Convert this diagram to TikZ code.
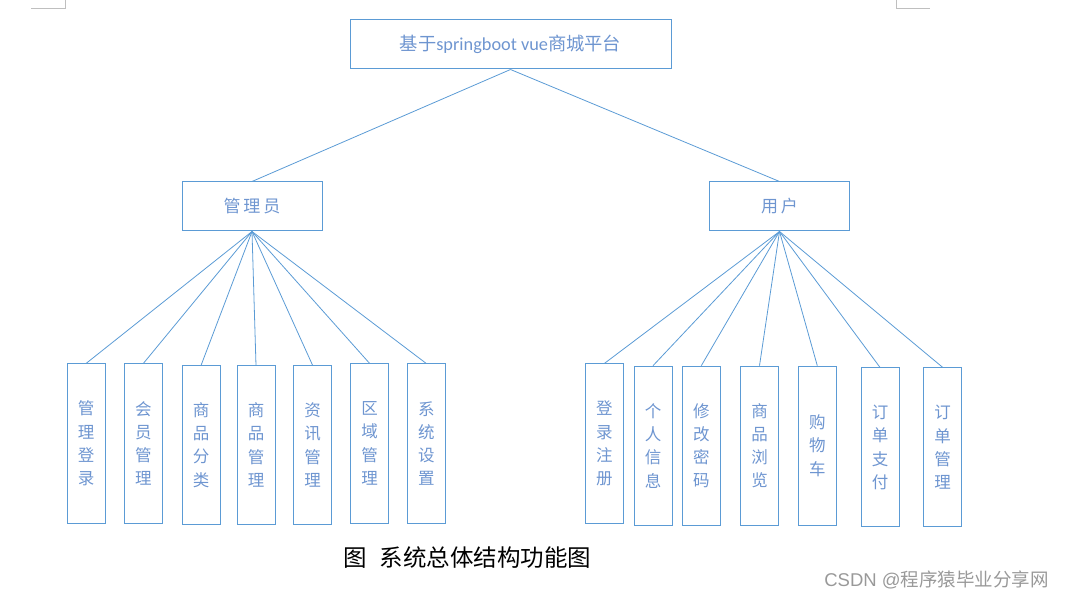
\documentclass[tikz,border=0pt]{standalone}
\usepackage{fontspec}
\newfontfamily\cjk{Noto Sans CJK SC}
\newfontfamily\carlito{Carlito}
\newfontfamily\lsans{Liberation Sans}
\definecolor{boxc}{HTML}{5B9BD5}
\definecolor{txtc}{HTML}{6E95D0}
\definecolor{markc}{HTML}{BFBFBF}
\definecolor{wmc}{HTML}{999999}
\begin{document}
\begin{tikzpicture}[x=1pt,y=-1pt,
  box/.style={draw=boxc, line width=1pt, text=txtc, inner sep=0pt, align=center},
  topbox/.style={box, minimum width=321pt, minimum height=49pt, font={\cjk\fontsize{18.3}{20}\selectfont}},
  midbox/.style={box, minimum width=140pt, minimum height=49pt, font={\cjk\fontsize{17}{20}\selectfont}},
  leaf/.style={box, minimum width=38pt, font={\cjk\fontsize{16.5}{23.3}\selectfont}},
  conn/.style={draw=boxc, line width=0.8pt},
  cornermark/.style={draw=markc, line width=0.8pt}]
\useasboundingbox (0,0) rectangle (1066,601);
% corner marks
\draw[cornermark] (31,8) -- (65,8) -- (65,0);
\draw[cornermark] (896,0) -- (896,8) -- (930,8);
% root
\node[topbox] (root) at (510.5,44.5) {基于{\carlito springboot vue}商城平台};
\node[midbox] (admin) at (252,206.5) {管\,理\,员};
\node[midbox] (user) at (779.5,206.5) {用\,户};
% admin leaves
\node[leaf, minimum height=159pt] (a1) at (86,443.5) {管\\理\\登\\录};
\node[leaf, minimum height=159pt] (a2) at (143.3,443.5) {会\\员\\管\\理};
\node[leaf, minimum height=158pt] (a3) at (201,445) {商\\品\\分\\类};
\node[leaf, minimum height=158pt] (a4) at (256,445) {商\\品\\管\\理};
\node[leaf, minimum height=158pt] (a5) at (312.7,445) {资\\讯\\管\\理};
\node[leaf, minimum height=159pt] (a6) at (369.7,443.5) {区\\域\\管\\理};
\node[leaf, minimum height=159pt] (a7) at (426.3,443.5) {系\\统\\设\\置};
% user leaves
\node[leaf, minimum height=159pt] (u1) at (604.3,443.5) {登\\录\\注\\册};
\node[leaf, minimum height=159pt] (u2) at (653,445.7) {个\\人\\信\\息};
\node[leaf, minimum height=159pt] (u3) at (701.3,445.7) {修\\改\\密\\码};
\node[leaf, minimum height=159pt] (u4) at (759.5,445.7) {商\\品\\浏\\览};
\node[leaf, minimum height=159pt] (u5) at (817.3,445.7) {购\\物\\车};
\node[leaf, minimum height=159pt] (u6) at (880,447.4) {订\\单\\支\\付};
\node[leaf, minimum height=159pt] (u7) at (942.7,447.4) {订\\单\\管\\理};
% connectors
\draw[conn] (root.south) -- (admin.north);
\draw[conn] (root.south) -- (user.north);
\foreach \n in {a1,a2,a3,a4,a5,a6,a7} \draw[conn] (admin.south) -- (\n.north);
\foreach \n in {u1,u2,u3,u4,u5,u6,u7} \draw[conn] (user.south) -- (\n.north);
% caption
\node[font={\cjk\fontsize{23.5}{26}\selectfont}, text=black, inner sep=0pt] (cap) at (467.5,558) {图\hspace{0.55em}系统总体结构功能图};
% watermark
\node[font={\fontsize{18.5}{20}\selectfont}, text=wmc, inner sep=0pt] (wm) at (936.5,580) {{\lsans CSDN @}{\cjk 程序猿毕业分享网}};
\end{tikzpicture}
\end{document}
